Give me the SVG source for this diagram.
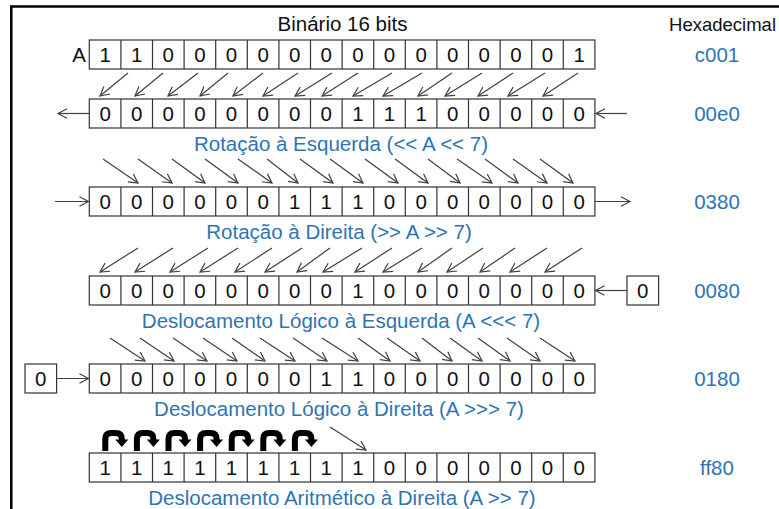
<svg xmlns="http://www.w3.org/2000/svg" xmlns:xlink="http://www.w3.org/1999/xlink" width="779" height="509" viewBox="0 0 779 509">
<style>
text{font-family:"Liberation Sans",Arial,sans-serif;font-size:20.5px}
.bk{fill:#111}
.bl{fill:#2E74B5}
.mid{text-anchor:middle}
.hx{font-size:18.5px;text-anchor:end}
.cell{fill:#fff;stroke:#333;stroke-width:1.2}
.conn{fill:none;stroke:#404040;stroke-width:1.2}
</style>
<defs>
<marker id="ah" markerUnits="userSpaceOnUse" viewBox="-11 -7 13 14" markerWidth="13" markerHeight="14" refX="0" refY="0" orient="auto">
<path d="M-9,-4.8 L0,0 L-9,4.8" fill="none" stroke="#404040" stroke-width="1.2"/>
</marker>
<g id="reg">
<rect class="cell" x="89.3" y="0" width="505.6" height="29"/>
<path class="cell" d="M120.9,0V29M152.5,0V29M184.1,0V29M215.7,0V29M247.3,0V29M278.9,0V29M310.5,0V29M342.1,0V29M373.7,0V29M405.3,0V29M436.9,0V29M468.5,0V29M500.1,0V29M531.7,0V29M563.3,0V29"/>
</g>
<g id="uturn">
<path d="M3.5,21 V9 Q3.5,3 9.5,3 H14 Q20,3 20,9 V10" fill="none" stroke="#000" stroke-width="6"/>
<polygon points="13.5,9.5 26.5,9.5 20,17" fill="#000"/>
</g>
</defs>
<rect width="779" height="509" fill="#fff"/>
<path d="M11.3,509 V6.5 H779" fill="none" stroke="#000" stroke-width="2.5"/>

<g id="header">
<text class="bk mid" x="342.5" y="31">Binário 16 bits</text>
<text class="bk hx" x="776" y="31">Hexadecimal</text>
</g>

<g id="row1">
<text class="bk mid" x="79" y="61.5">A</text>
<use xlink:href="#reg" y="40"/>
<text class="bk mid" x="105.1 136.7 168.3 199.9 231.5 263.1 294.7 326.3 357.9 389.5 421.1 452.7 484.3 515.9 547.5 579.1" y="61.5">1100000000000001</text>
<text class="bl mid" x="717" y="61.5">c001</text>
</g>

<g id="row2">
<use xlink:href="#reg" y="99"/>
<text class="bk mid" x="105.1 136.7 168.3 199.9 231.5 263.1 294.7 326.3 357.9 389.5 421.1 452.7 484.3 515.9 547.5 579.1" y="120.5">0000000011100000</text>
<text class="bl mid" x="717" y="120.5">00e0</text>
<text class="bl mid" x="341" y="151">Rotação à Esquerda (&lt;&lt; A &lt;&lt; 7)</text>
</g>

<g id="row3">
<use xlink:href="#reg" y="187"/>
<text class="bk mid" x="105.1 136.7 168.3 199.9 231.5 263.1 294.7 326.3 357.9 389.5 421.1 452.7 484.3 515.9 547.5 579.1" y="208.5">0000001110000000</text>
<text class="bl mid" x="717" y="208.5">0380</text>
<text class="bl mid" x="339" y="239">Rotação à Direita (&gt;&gt; A &gt;&gt; 7)</text>
</g>

<g id="row4">
<use xlink:href="#reg" y="276"/>
<text class="bk mid" x="105.1 136.7 168.3 199.9 231.5 263.1 294.7 326.3 357.9 389.5 421.1 452.7 484.3 515.9 547.5 579.1" y="297.5">0000000010000000</text>
<text class="bl mid" x="717" y="297.5">0080</text>
<text class="bl mid" x="341" y="328">Deslocamento Lógico à Esquerda (A &lt;&lt;&lt; 7)</text>
</g>

<g id="zero-in-right">
<rect class="cell" x="627" y="276" width="31.6" height="29"/>
<text class="bk mid" x="642.8" y="297.5">0</text>
</g>

<g id="row5">
<use xlink:href="#reg" y="364"/>
<text class="bk mid" x="105.1 136.7 168.3 199.9 231.5 263.1 294.7 326.3 357.9 389.5 421.1 452.7 484.3 515.9 547.5 579.1" y="385.5">0000000110000000</text>
<text class="bl mid" x="717" y="385.5">0180</text>
<text class="bl mid" x="339" y="416">Deslocamento Lógico à Direita (A &gt;&gt;&gt; 7)</text>
</g>

<g id="zero-in-left">
<rect class="cell" x="25" y="364" width="31.6" height="29"/>
<text class="bk mid" x="40.8" y="385.5">0</text>
</g>

<g id="row6">
<use xlink:href="#reg" y="453"/>
<text class="bk mid" x="105.1 136.7 168.3 199.9 231.5 263.1 294.7 326.3 357.9 389.5 421.1 452.7 484.3 515.9 547.5 579.1" y="474.5">1111111110000000</text>
<text class="bl mid" x="717" y="474.5">ff80</text>
<text class="bl mid" x="342" y="505">Deslocamento Aritmético à Direita (A &gt;&gt; 7)</text>
</g>

<g id="connectors" class="conn" marker-end="url(#ah)">
<path d="M128,73L100,96"/><path d="M163,73L135,96"/><path d="M198,73L168,96"/><path d="M228,73L200,96"/><path d="M263,73L233,96"/><path d="M298,73L263,96"/><path d="M332,73L295,96"/><path d="M358,73L322,96"/><path d="M392,73L353,96"/><path d="M422,73L383,96"/><path d="M452,73L418,96"/><path d="M482,73L445,96"/><path d="M513,73L478,96"/><path d="M545,73L508,96"/><path d="M578,73L543,96"/>
<path d="M89.3,113.5H58"/><path d="M627,113.5H596"/>
<path d="M103,159L138,183"/><path d="M138,159L172,183"/><path d="M172,159L205,183"/><path d="M205,159L238,183"/><path d="M238,159L272,183"/><path d="M267,159L298,183"/><path d="M300,159L333,183"/><path d="M330,159L363,183"/><path d="M365,159L398,183"/><path d="M395,159L428,183"/><path d="M428,159L460,183"/><path d="M457,159L492,183"/><path d="M485,159L518,183"/><path d="M513,159L547,183"/><path d="M540,159L573,183"/>
<path d="M55,201.5H88.5"/><path d="M594.9,201.5H630"/>
<path d="M138,248L100,272"/><path d="M173,248L135,272"/><path d="M208,248L170,272"/><path d="M238,248L200,272"/><path d="M272,248L235,272"/><path d="M302,248L265,272"/><path d="M330,248L297,272"/><path d="M362,248L323,272"/><path d="M392,248L355,272"/><path d="M422,248L383,272"/><path d="M452,248L418,272"/><path d="M483,248L447,272"/><path d="M515,248L480,272"/><path d="M547,248L510,272"/><path d="M582,248L545,272"/>
<path d="M627,290.5H595.5"/>
<path d="M110,338L145,361"/><path d="M140,338L174,361"/><path d="M173,338L207,361"/><path d="M203,338L237,361"/><path d="M232,338L265,361"/><path d="M260,338L295,361"/><path d="M293,338L327,361"/><path d="M322,338L358,361"/><path d="M358,338L390,361"/><path d="M387,338L420,361"/><path d="M422,338L452,361"/><path d="M450,338L482,361"/><path d="M478,338L510,361"/><path d="M507,338L540,361"/><path d="M540,338L575,361"/>
<path d="M56.6,378.5H88.5"/>
<path d="M330,427L366,450"/>
</g>

<g id="sign-copies">
<use xlink:href="#uturn" x="101.8" y="430"/>
<use xlink:href="#uturn" x="133.4" y="430"/>
<use xlink:href="#uturn" x="165" y="430"/>
<use xlink:href="#uturn" x="196.6" y="430"/>
<use xlink:href="#uturn" x="228.2" y="430"/>
<use xlink:href="#uturn" x="259.8" y="430"/>
<use xlink:href="#uturn" x="291.4" y="430"/>
</g>
</svg>
